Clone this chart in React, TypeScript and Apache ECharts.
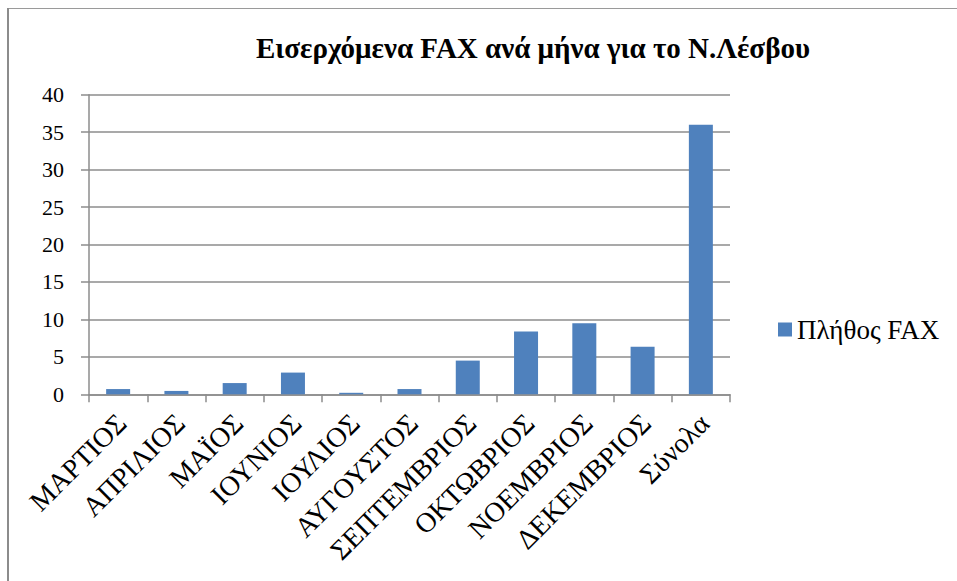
import React, { useEffect, useRef } from "react";
import * as echarts from "echarts";

const categories = [
  "ΜΑΡΤΙΟΣ",
  "ΑΠΡΙΛΙΟΣ",
  "ΜΑΪΟΣ",
  "ΙΟΥΝΙΟΣ",
  "ΙΟΥΛΙΟΣ",
  "ΑΥΓΟΥΣΤΟΣ",
  "ΣΕΠΤΕΜΒΡΙΟΣ",
  "ΟΚΤΩΒΡΙΟΣ",
  "ΝΟΕΜΒΡΙΟΣ",
  "ΔΕΚΕΜΒΡΙΟΣ",
  "Σύνολα",
];
const faxCounts = [0.7, 0.45, 1.5, 2.9, 0.2, 0.7, 4.5, 8.4, 9.5, 6.35, 36];
const seriesName = "Πλήθος FAX";
const titleText = "Εισερχόμενα FAX ανά μήνα για το Ν.Λέσβου";
const yMin = 0;
const yMax = 40;
const yStep = 5;

const SERIF = "Liberation Serif";
const AXIS = "#8c8c8c";

export default function App() {
  const ref = useRef<HTMLDivElement>(null);
  useEffect(() => {
    if (!ref.current) return;
    const chart = echarts.init(ref.current, null, { renderer: "svg" });
    chart.setOption({
      animation: false,
      backgroundColor: "#ffffff",
      textStyle: { fontFamily: SERIF },
      title: {
        text: titleText,
        left: 528,
        textAlign: "center",
        top: 28,
        textStyle: {
          fontFamily: SERIF,
          fontWeight: "bold",
          fontSize: 29,
          color: "#000",
        },
      },
      legend: {
        left: 773,
        top: 311,
        icon: "rect",
        itemWidth: 14,
        itemHeight: 14,
        itemGap: 10,
        textStyle: {
          fontFamily: SERIF,
          fontSize: 27,
          color: "#000",
          padding: [0, 0, 0, 0],
        },
        data: [seriesName],
      },
      grid: {
        left: 89,
        right: 227,
        top: 94.8,
        bottom: 186.7,
        containLabel: false,
      },
      xAxis: {
        type: "category",
        data: categories,
        boundaryGap: true,
        axisLine: { show: true, lineStyle: { color: AXIS, width: 1.5 } },
        axisTick: {
          show: true,
          alignWithLabel: false,
          length: 8,
          lineStyle: { color: AXIS, width: 1.5 },
        },
        axisLabel: {
          interval: 0,
          rotate: 45,
          margin: 8,
          align: "right",
          verticalAlign: "top",
          formatter: (v: string) => `{t|${v}}{g|}`,
          rich: {
            t: { fontFamily: SERIF, fontSize: 28, color: "#000" },
            g: { width: 9, fontSize: 28 },
          },
          fontFamily: SERIF,
          fontSize: 28,
          color: "#000",
        },
      },
      yAxis: {
        type: "value",
        min: yMin,
        max: yMax,
        interval: yStep,
        axisLine: { show: true, lineStyle: { color: AXIS, width: 1.5 } },
        axisTick: {
          show: true,
          length: 8,
          lineStyle: { color: AXIS, width: 1.5 },
        },
        splitLine: { show: true, lineStyle: { color: AXIS, width: 1.5 } },
        axisLabel: {
          margin: 25,
          fontFamily: SERIF,
          fontSize: 22,
          color: "#000",
        },
      },
      series: [
        {
          name: seriesName,
          type: "bar",
          data: faxCounts,
          barWidth: 24,
          itemStyle: { color: "#4F81BD" },
        },
      ],
      graphic: [
        {
          type: "line",
          shape: { x1: 8, y1: 8.5, x2: 957, y2: 8.5 },
          style: { stroke: "#9a9a9a", lineWidth: 1 },
        },
        {
          type: "line",
          shape: { x1: 8, y1: 8, x2: 8, y2: 581 },
          style: { stroke: "#8c8c8c", lineWidth: 2 },
        },
      ],
    });
    return () => chart.dispose();
  }, []);
  return (
    <div
      ref={ref}
      style={{ position: "fixed", left: 0, top: 0, width: 957, height: 581 }}
    />
  );
}
